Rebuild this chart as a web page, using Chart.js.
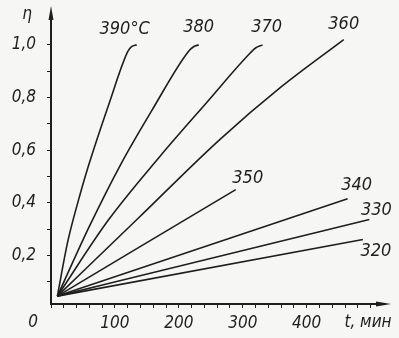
<!DOCTYPE html>
<html lang="ru">
  <head>
    <meta charset="UTF-8" />
    <title>η(t)</title>
    <script src="https://cdn.jsdelivr.net/npm/chart.js"></script>
    <style>
      body {
        margin: 0;
        background: #f6f6f4;
      }
      .chart-container {
        width: 399px;
        height: 338px;
      }
    </style>
  </head>
  <body>
    <div class="chart-container">
      <canvas id="etaChart"></canvas>
    </div>

    <script>
      // подписи кривых (температура)
      const temps = ["390°C", "380", "370", "360", "350", "340", "330", "320"];

      // время, мин / степень превращения η
      const t390 = [10, 26, 43, 56, 92, 120, 126, 134];
      const eta390 = [0.045, 0.25, 0.41, 0.52, 0.785, 0.974, 0.993, 1.0];
      const t380 = [10, 60, 110, 160, 215, 223, 231];
      const eta380 = [0.045, 0.31, 0.55, 0.76, 0.975, 0.993, 1.0];
      const t370 = [10, 90, 170, 245, 312, 320, 331];
      const eta370 = [0.045, 0.335, 0.575, 0.785, 0.97, 0.988, 1.0];
      const t360 = [10, 136, 264, 360, 458];
      const eta360 = [0.045, 0.34, 0.64, 0.84, 1.02];
      const t350 = [10, 289];
      const eta350 = [0.045, 0.45];
      const t340 = [10, 464];
      const eta340 = [0.045, 0.415];
      const t330 = [10, 498];
      const eta330 = [0.045, 0.336];
      const t320 = [10, 488];
      const eta320 = [0.045, 0.26];

      const xTickLabels = [100, 200, 300, 400];
      const yTickLabels = [0.2, 0.4, 0.6, 0.8, 1.0];

      const series = [
        [t390, eta390], [t380, eta380], [t370, eta370], [t360, eta360],
        [t350, eta350], [t340, eta340], [t330, eta330], [t320, eta320],
      ];

      // смещение подписи от конца кривой, px
      const labelOffsets = [
        [-12, -16], [0, -18], [4, -18], [0, -15],
        [12, -11], [9, -13], [7, -9], [13, 12],
      ];

      const FONT = "'Liberation Sans Narrow', 'DejaVu Sans Condensed', sans-serif";
      const INK = "#1e1e1e";

      const annotate = {
        id: "annotate",
        afterDraw(chart) {
          const ctx = chart.ctx;
          const area = chart.chartArea;
          const x0 = area.left;
          const y0 = area.bottom;
          ctx.save();
          ctx.strokeStyle = INK;
          ctx.fillStyle = INK;
          ctx.lineWidth = 2;
          // продолжение осей и стрелки
          ctx.beginPath();
          ctx.moveTo(x0, area.top);
          ctx.lineTo(x0, 14);
          ctx.moveTo(area.right, y0);
          ctx.lineTo(380, y0);
          ctx.stroke();
          ctx.beginPath();
          ctx.moveTo(x0, 6);
          ctx.lineTo(x0 - 2.5, 20);
          ctx.lineTo(x0 + 2.5, 20);
          ctx.closePath();
          ctx.fill();
          ctx.beginPath();
          ctx.moveTo(391, y0);
          ctx.lineTo(376, y0 - 2.5);
          ctx.lineTo(376, y0 + 2.5);
          ctx.closePath();
          ctx.fill();

          ctx.font = "italic 17px " + FONT;
          ctx.textAlign = "center";
          ctx.textBaseline = "middle";
          ctx.fillText("η", 27, 15);
          ctx.fillText("0", 33, 323);
          ctx.fillText("t, мин", 368, 323);

          ctx.font = "italic 18px " + FONT;
          chart.data.datasets.forEach((ds, i) => {
            const pts = chart.getDatasetMeta(i).data;
            const end = pts[pts.length - 1];
            ctx.fillText(ds.label, end.x + labelOffsets[i][0], end.y + labelOffsets[i][1]);
          });
          ctx.restore();
        },
      };

      const ctx = document.getElementById("etaChart").getContext("2d");
      new Chart(ctx, {
        type: "line",
        data: {
          datasets: series.map((s, i) => ({
            label: temps[i],
            data: s[0].map((t, k) => ({ x: t, y: s[1][k] })),
            borderColor: INK,
            borderWidth: 1.6,
            pointRadius: 0,
            cubicInterpolationMode: "monotone",
            fill: false,
          })),
        },
        options: {
          responsive: true,
          maintainAspectRatio: false,
          animation: false,
          layout: { padding: { top: 19, right: 22, left: 0, bottom: 0 } },
          plugins: { legend: { display: false }, tooltip: { enabled: false } },
          scales: {
            x: {
              type: "linear",
              min: 0,
              max: 510,
              afterFit: (s) => { s.height = 34; },
              border: { color: INK, width: 2 },
              grid: { drawOnChartArea: false, drawTicks: true, tickLength: 4, color: INK },
              ticks: {
                stepSize: 20,
                includeBounds: false,
                autoSkip: false,
                maxRotation: 0,
                padding: 5,
                color: INK,
                font: { family: FONT, size: 17, style: "italic" },
                callback: (v) => (xTickLabels.includes(v) ? String(v) : ""),
              },
            },
            y: {
              type: "linear",
              min: 0.015,
              max: 1.09,
              afterFit: (s) => { s.width = 51; },
              border: { color: INK, width: 2 },
              grid: { drawOnChartArea: false, drawTicks: true, tickLength: 4, color: INK },
              ticks: {
                stepSize: 0.1,
                includeBounds: false,
                autoSkip: false,
                padding: 11,
                color: INK,
                font: { family: FONT, size: 17, style: "italic" },
                callback: (v) => {
                  const r = Math.round(v * 10) / 10;
                  if (r > 1.0) return null;
                  return yTickLabels.some((l) => Math.abs(l - r) < 1e-6)
                    ? r.toFixed(1).replace(".", ",")
                    : "";
                },
              },
            },
          },
        },
        plugins: [annotate],
      });
    </script>
  </body>
</html>
